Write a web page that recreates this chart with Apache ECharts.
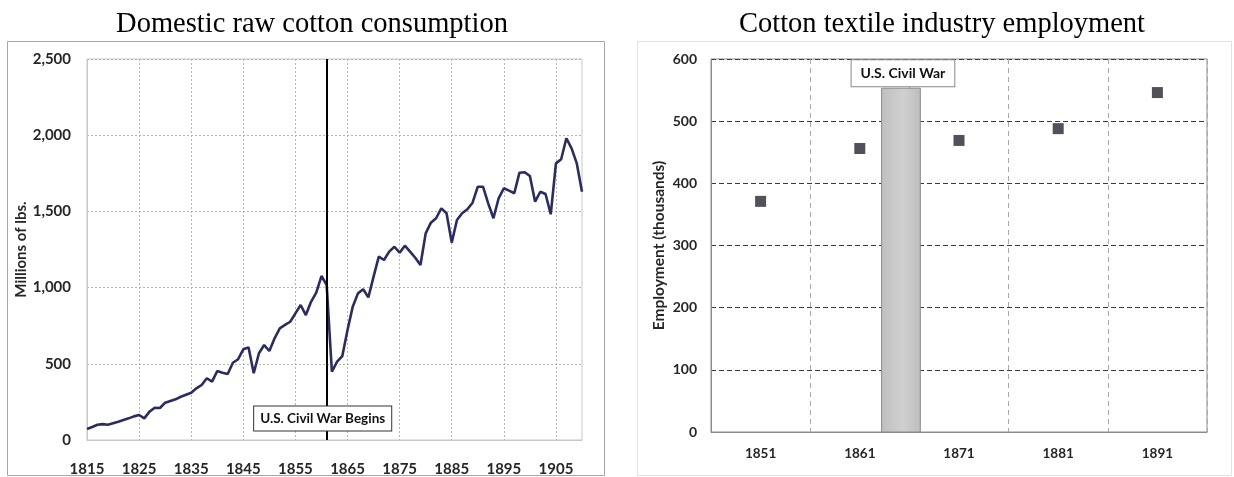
<!DOCTYPE html>
<html>
<head>
<meta charset="utf-8">
<script src="https://cdn.jsdelivr.net/npm/echarts@6/dist/echarts.min.js"></script>
<style>
html,body{margin:0;padding:0;background:#fff;}
#c{width:1234px;height:477px;}
</style>
</head>
<body>
<div id="c"></div>
<script>
// ---- Left chart data ----
const years = ['1815','1816','1817','1818','1819','1820','1821','1822','1823','1824',
'1825','1826','1827','1828','1829','1830','1831','1832','1833','1834',
'1835','1836','1837','1838','1839','1840','1841','1842','1843','1844',
'1845','1846','1847','1848','1849','1850','1851','1852','1853','1854',
'1855','1856','1857','1858','1859','1860','1861','1862','1863','1864',
'1865','1866','1867','1868','1869','1870','1871','1872','1873','1874',
'1875','1876','1877','1878','1879','1880','1881','1882','1883','1884',
'1885','1886','1887','1888','1889','1890','1891','1892','1893','1894',
'1895','1896','1897','1898','1899','1900','1901','1902','1903','1904',
'1905','1906','1907','1908','1909','1910'];
const consumption = [72,85,100,104,100,110,120,131,142,155,
164,142,186,212,210,245,256,267,284,297,
310,339,361,405,383,453,442,433,507,530,
595,608,438,569,623,584,667,733,755,776,
831,886,820,907,967,1076,1017,448,514,551,
722,875,962,989,936,1072,1203,1181,1236,1268,
1229,1275,1236,1196,1148,1356,1426,1455,1520,1488,
1295,1444,1488,1514,1557,1662,1662,1553,1455,1586,
1652,1636,1619,1754,1757,1732,1564,1629,1614,1481,
1815,1842,1980,1914,1815,1629];
const warBeginsYear = '1861';
const warBeginsLabel = 'U.S. Civil War Begins';
const leftYTicks = [0, 500, 1000, 1500, 2000, 2500];

// ---- Right chart data ----
const censusYears = ['1851','1861','1871','1881','1891'];
const employment = [371, 456, 469, 488, 546];
const warBand = [1863.2, 1867.1, 553];   // start year, end year, top value
const warLabel = 'U.S. Civil War';
const rightYTicks = [0, 100, 200, 300, 400, 500, 600];

const sans = 'Lato';
const chart = echarts.init(document.getElementById('c'), null, {renderer:'canvas'});

const option = {
  animation: false,
  backgroundColor: '#fff',
  graphic: [
    {type:'rect', shape:{x:7.5,y:41.5,width:597,height:434}, style:{fill:'none', stroke:'#a6a6a6', lineWidth:1}, z:-1},
    {type:'rect', shape:{x:637.5,y:41.5,width:594,height:434}, style:{fill:'none', stroke:'#e2e2e2', lineWidth:1}, z:-1}
  ],
  title: [
    {text:'Domestic raw cotton consumption', left:307, top:5, textAlign:'center',
     textStyle:{fontFamily:'Liberation Serif', fontWeight:'normal', fontSize:28.5, color:'#000'}},
    {text:'Cotton textile industry employment', left:937, top:5, textAlign:'center',
     textStyle:{fontFamily:'Liberation Serif', fontWeight:'normal', fontSize:28.5, color:'#000'}}
  ],
  grid: [
    {left:87, top:59, width:495, height:381, show:true, borderColor:'#c8c8c8', borderWidth:1, backgroundColor:'transparent'},
    {left:711, top:59, width:496, height:373, show:true, borderColor:'#8c8c8c', borderWidth:1, backgroundColor:'transparent'}
  ],
  xAxis: [
    {type:'category', gridIndex:0, data:years, boundaryGap:false,
     axisLine:{show:true, lineStyle:{color:'#c8c8c8'}}, axisTick:{show:false},
     axisLabel:{interval:9, margin:22, fontFamily:sans, fontWeight:'bold', fontSize:15, color:'#262626'},
     splitLine:{show:true, interval:9, lineStyle:{color:'#b4b4b4', type:[2,2], width:1}}},
    {type:'category', gridIndex:1, data:censusYears, boundaryGap:true,
     axisLine:{show:true, lineStyle:{color:'#8c8c8c'}}, axisTick:{show:false},
     axisLabel:{margin:15, fontFamily:sans, fontWeight:'bold', fontSize:13.5, color:'#262626'},
     splitLine:{show:true, interval:0, lineStyle:{color:'#a8a8a8', type:[5,4], width:1}}},
    {type:'value', gridIndex:1, min:1846, max:1896, show:false}
  ],
  yAxis: [
    {type:'value', gridIndex:0, min:leftYTicks[0], max:leftYTicks[leftYTicks.length-1], interval:leftYTicks[1]-leftYTicks[0],
     name:'Millions of lbs.', nameLocation:'middle', nameGap:57,
     nameTextStyle:{fontFamily:sans, fontWeight:'bold', fontSize:15, color:'#262626'},
     axisLine:{show:true, lineStyle:{color:'#c8c8c8'}}, axisTick:{show:false},
     axisLabel:{margin:16, fontFamily:sans, fontWeight:'bold', fontSize:15, color:'#262626',
       formatter: v => v.toLocaleString('en-US')},
     splitLine:{show:true, lineStyle:{color:'#b4b4b4', type:[2,2], width:1}}},
    {type:'value', gridIndex:1, min:rightYTicks[0], max:rightYTicks[rightYTicks.length-1], interval:rightYTicks[1]-rightYTicks[0],
     name:'Employment (thousands)', nameLocation:'middle', nameGap:44,
     nameTextStyle:{fontFamily:sans, fontWeight:'bold', fontSize:15.5, color:'#262626'},
     axisLine:{show:true, lineStyle:{color:'#8c8c8c'}}, axisTick:{show:false},
     axisLabel:{margin:14, fontFamily:sans, fontWeight:'bold', fontSize:14, color:'#262626'},
     splitLine:{show:true, lineStyle:{color:'#3a3a3a', type:[5,3], width:1}}}
  ],
  series: [
    {type:'line', xAxisIndex:0, yAxisIndex:0, data:consumption, showSymbol:false, symbol:'none',
     lineStyle:{color:'#2b2d5e', width:2.6}, itemStyle:{color:'#2b2d5e'}, z:3,
     markLine:{silent:true, symbol:['none','none'], label:{show:false},
       lineStyle:{color:'#000', width:2, type:'solid'},
       data:[{xAxis:warBeginsYear}]}},
    {type:'scatter', xAxisIndex:0, yAxisIndex:0, data:[], z:10,
     markPoint:{silent:true, symbol:'rect', symbolSize:0,
       data:[{coord:[warBeginsYear, 141], value:warBeginsLabel}],
       label:{show:true, position:'inside', offset:[-4,0], formatter:warBeginsLabel,
         fontFamily:sans, fontWeight:'bold', fontSize:13.5, color:'#111',
         backgroundColor:'#fff', borderColor:'#333', borderWidth:1, padding:[5,6,5,6]}}},
    {type:'line', xAxisIndex:2, yAxisIndex:1, data:[], z:1,
     markArea:{silent:true,
       itemStyle:{color:{type:'linear', x:0, y:0, x2:1, y2:0, colorStops:[
         {offset:0, color:'#bfbfbf'},{offset:0.55, color:'#d0d0d0'},{offset:1, color:'#bdbdbd'}]},
         borderColor:'#8a8a8a', borderWidth:1},
       data:[[{xAxis:warBand[0], yAxis:0},{xAxis:warBand[1], yAxis:warBand[2]}]]}},
    {type:'scatter', xAxisIndex:1, yAxisIndex:1, data:employment, symbol:'rect', symbolSize:11,
     itemStyle:{color:'#25252f'}, z:5},
    {type:'scatter', xAxisIndex:2, yAxisIndex:1, data:[], z:10,
     markPoint:{silent:true, symbol:'rect', symbolSize:0,
       data:[{coord:[(warBand[0]+warBand[1])/2 + 0.2, 577], value:warLabel}],
       label:{show:true, position:'inside', formatter:warLabel,
         fontFamily:sans, fontWeight:'bold', fontSize:14, color:'#111',
         backgroundColor:'#fff', borderColor:'#888', borderWidth:1, padding:[6,9,6,9]}}}
  ]
};
chart.setOption(option);
</script>
</body>
</html>
